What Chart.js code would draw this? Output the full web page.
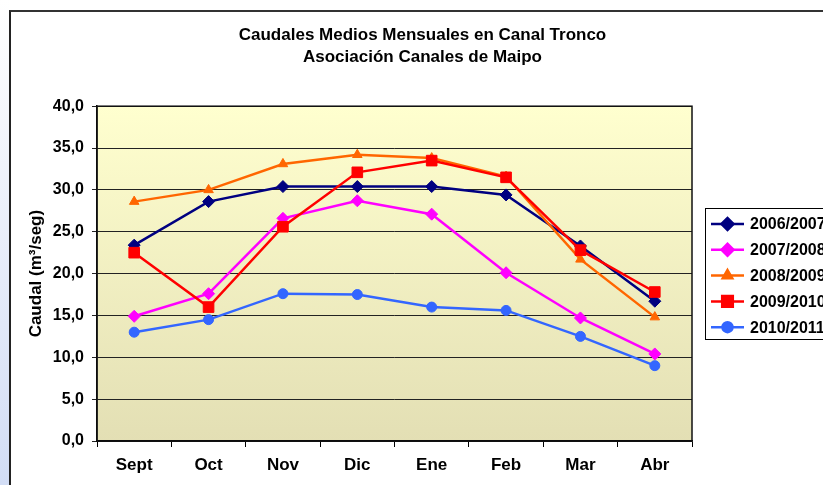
<!DOCTYPE html>
<html>
<head>
<meta charset="utf-8">
<script src="https://cdn.jsdelivr.net/npm/chart.js@4/dist/chart.umd.min.js"></script>
<style>
  html, body { margin: 0; padding: 0; background: #fff; }
  #wrap { position: relative; width: 823px; height: 485px; overflow: hidden; }
  #strip {
    position: absolute; left: 0; top: 0; width: 9px; height: 485px;
    background: linear-gradient(to bottom, #ffffff 0%, #f4f6fc 25%, #d2ddf5 100%);
  }
  #frame {
    position: absolute; left: 9px; top: 10px; width: 900px; height: 600px;
    border-left: 2px solid #222; border-top: 2px solid #333;
  }
  #box { position: absolute; left: 0; top: 0; width: 845px; height: 485px; }
</style>
</head>
<body>
<div id="wrap">
  <div id="strip"></div>
  <div id="frame"></div>
  <div id="box"><canvas id="chart" width="845" height="485"></canvas></div>
</div>
<script>
const months = ['Sept', 'Oct', 'Nov', 'Dic', 'Ene', 'Feb', 'Mar', 'Abr']
const seasons = ['2006/2007', '2007/2008', '2008/2009', '2009/2010', '2010/2011']

const flow0607 = [23.4, 28.6, 30.4, 30.4, 30.4, 29.4, 23.3, 16.7]
const flow0708 = [14.9, 17.6, 26.6, 28.7, 27.1, 20.1, 14.7, 10.4]
const flow0809 = [28.6, 30.0, 33.1, 34.2, 33.8, 31.6, 21.7, 14.8]
const flow0910 = [22.5, 16.0, 25.6, 32.1, 33.5, 31.5, 22.8, 17.8]
const flow1011 = [13.0, 14.5, 17.6, 17.5, 16.0, 15.6, 12.5, 9.0]

const seriesValues = [flow0607, flow0708, flow0809, flow0910, flow1011]
const seriesColors = ['#000080', '#ff00ff', '#ff6600', '#ff0000', '#3366ff']
const seriesMarkers = ['rectRot', 'rectRot', 'triangle', 'rect', 'circle']
const markerSizes = [6, 6, 5.5, 7.5, 5]

const fmt = (v) => v.toFixed(1).replace('.', ',')

// plot area background, gradient light yellow to khaki
const plotBackground = {
    id: 'plotBackground',
    beforeDraw(chart) {
        const { ctx, chartArea: a } = chart
        const g = ctx.createLinearGradient(0, a.top, 0, a.bottom)
        g.addColorStop(0, '#ffffcf')
        g.addColorStop(1, '#e3dfb4')
        ctx.save()
        ctx.fillStyle = g
        ctx.fillRect(a.left, a.top, a.right - a.left, a.bottom - a.top)
        ctx.restore()
    },
    beforeDatasetsDraw(chart) {
        const { ctx, chartArea: a } = chart
        ctx.save()
        ctx.strokeStyle = '#111'
        ctx.lineWidth = 1.5
        ctx.strokeRect(a.left, a.top, a.right - a.left, a.bottom - a.top)
        ctx.restore()
    },
}

// Excel-style legend box, partly cut off by the right edge
const boxLegend = {
    id: 'boxLegend',
    afterDraw(chart) {
        const { ctx } = chart
        const left = 705
        const top = 208
        ctx.save()
        ctx.fillStyle = '#fff'
        ctx.strokeStyle = '#000'
        ctx.lineWidth = 1
        ctx.fillRect(left, top, 140, 131)
        ctx.strokeRect(left + 0.5, top + 0.5, 140, 131)
        chart.data.datasets.forEach((ds, i) => {
            const y = 224 + i * 25.8
            ctx.strokeStyle = ds.borderColor
            ctx.lineWidth = 2.5
            ctx.beginPath()
            ctx.moveTo(711, y)
            ctx.lineTo(744, y)
            ctx.stroke()
            ctx.fillStyle = ds.borderColor
            Chart.helpers.drawPoint(ctx, {
                pointStyle: ds.pointStyle,
                radius: ds.pointRadius,
                rotation: 0,
                borderWidth: 1,
            }, 727.5, y)
            ctx.fillStyle = '#000'
            ctx.font = 'bold 16px "Liberation Sans", Arial, sans-serif'
            ctx.textBaseline = 'middle'
            ctx.textAlign = 'left'
            ctx.fillText(ds.label, 750, y + 1)
        })
        ctx.restore()
    },
}

new Chart(document.getElementById('chart'), {
    type: 'line',
    data: {
        labels: months,
        datasets: seriesValues.map((values, i) => ({
            label: seasons[i],
            data: values,
            borderColor: seriesColors[i],
            backgroundColor: seriesColors[i],
            pointBackgroundColor: seriesColors[i],
            pointBorderColor: seriesColors[i],
            pointStyle: seriesMarkers[i],
            pointRadius: markerSizes[i],
            pointBorderWidth: 1,
            borderWidth: 2.5,
            tension: 0,
            order: seriesValues.length - i,
        })),
    },
    options: {
        responsive: false,
        animation: false,
        layout: { padding: 0 },
        plugins: {
            legend: { display: false },
            tooltip: { enabled: false },
            title: {
                display: true,
                text: ['Caudales Medios Mensuales en Canal Tronco', 'Asociación Canales de Maipo'],
                color: '#000',
                font: { family: '"Liberation Sans", Arial, sans-serif', size: 17, weight: 'bold', lineHeight: 1.3 },
                padding: { top: 24, bottom: 38 },
            },
        },
        scales: {
            x: {
                offset: true,
                grid: {
                    offset: true,
                    drawOnChartArea: false,
                    tickLength: 6,
                    color: '#000',
                },
                border: { color: '#000', width: 1.5 },
                ticks: {
                    color: '#000',
                    padding: 8,
                    maxRotation: 0,
                    font: { family: '"Liberation Sans", Arial, sans-serif', size: 17, weight: 'bold' },
                },
                afterFit(scale) { scale.height = 44 },
            },
            y: {
                min: 0,
                max: 40,
                grid: { color: '#222', lineWidth: 1, tickLength: 5 },
                border: { color: '#000', width: 1.5 },
                ticks: {
                    stepSize: 5,
                    color: '#000',
                    padding: 8,
                    font: { family: '"Liberation Sans", Arial, sans-serif', size: 16, weight: 'bold' },
                    callback: (v) => fmt(v),
                },
                title: {
                    display: true,
                    text: 'Caudal (m³/seg)',
                    color: '#000',
                    padding: { top: 26, bottom: 0 },
                    font: { family: '"Liberation Sans", Arial, sans-serif', size: 17, weight: 'bold' },
                },
                afterFit(scale) { scale.width = 97 },
            },
            spacer: {
                type: 'linear',
                position: 'right',
                grid: { display: false },
                border: { display: false },
                ticks: { display: false },
                afterFit(scale) { scale.width = 153 },
            },
        },
    },
    plugins: [plotBackground, boxLegend],
})
</script>
</body>
</html>
